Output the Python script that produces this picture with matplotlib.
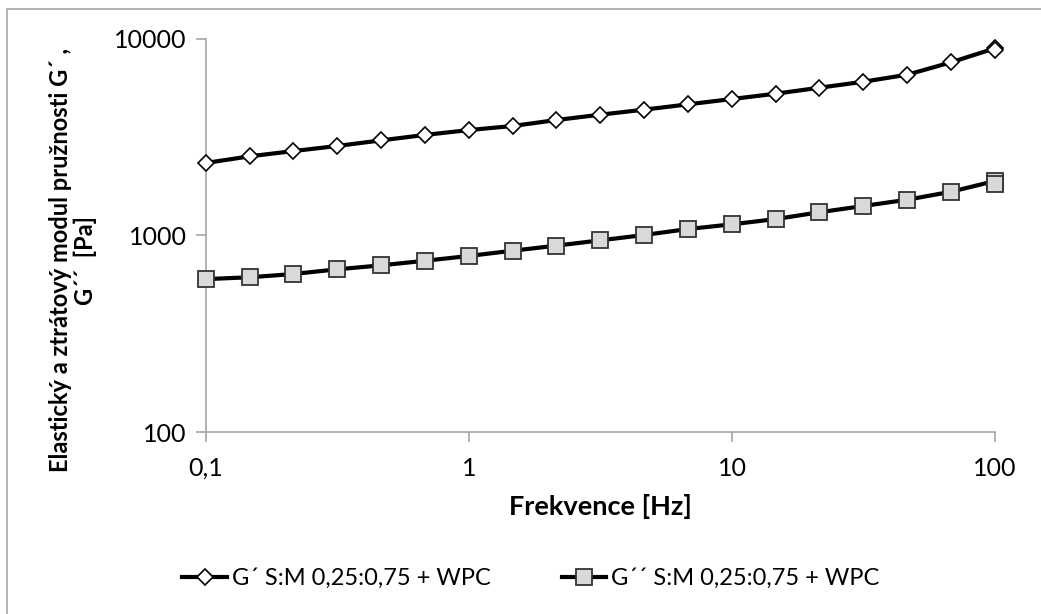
import matplotlib
matplotlib.use("Agg")
import matplotlib.pyplot as plt
from matplotlib.patches import Rectangle

plt.rcParams['font.family'] = ['Lato', 'DejaVu Sans']

# frekvence [Hz] (posledni bod je zmeren dvakrat)
freq = [0.1, 0.147, 0.215, 0.316, 0.464, 0.681, 1, 1.47, 2.15, 3.16,
        4.64, 6.81, 10, 14.7, 21.5, 31.6, 46.4, 68.1, 100, 100]

# elasticky modul G´ [Pa]
g1 = [2340, 2530, 2690, 2855, 3050, 3250, 3440, 3610, 3870, 4120,
      4370, 4650, 4950, 5270, 5650, 6060, 6580, 7610, 8970, 8800]

# ztratovy modul G´´ [Pa]
g2 = [600, 613, 637, 673, 705, 744, 787, 837, 888, 945,
      1006, 1079, 1140, 1213, 1313, 1413, 1521, 1670, 1894, 1830]

label_g1 = "G´ S:M 0,25:0,75 + WPC"
label_g2 = "G´´ S:M 0,25:0,75 + WPC"

x_ticks = [0.1, 1, 10, 100]
x_labels = ["0,1", "1", "10", "100"]
y_ticks = [100, 1000, 10000]
y_labels = ["100", "1000", "10000"]

fig = plt.figure(figsize=(10.41, 6.14), dpi=100)
ax = fig.add_axes([0.1979, 0.2964, 0.7579, 0.6401])

# ramecek kolem celeho grafu
fig.patches.append(Rectangle((7 / 1041, -0.1), 1.2, 1 - 9 / 614 + 0.1,
                             transform=fig.transFigure, fill=False,
                             edgecolor="#a6a6a6", linewidth=1.2))

ax.plot(freq, g1, color="black", linewidth=3, marker="D", markersize=8.5,
        markerfacecolor="white", markeredgecolor="black", markeredgewidth=1.2,
        label=label_g1, clip_on=False, zorder=3)
ax.plot(freq, g2, color="black", linewidth=3, marker="s", markersize=11.5,
        markerfacecolor="#d9d9d9", markeredgecolor="#333333", markeredgewidth=1.3,
        label=label_g2, clip_on=False, zorder=3)

ax.set_xscale("log")
ax.set_yscale("log")
ax.set_xlim(0.1, 100)
ax.set_ylim(100, 10000)
ax.set_xticks(x_ticks)
ax.set_xticklabels(x_labels)
ax.set_yticks(y_ticks)
ax.set_yticklabels(y_labels)
ax.minorticks_off()

for s in ["top", "right"]:
    ax.spines[s].set_visible(False)
for s in ["left", "bottom"]:
    ax.spines[s].set_color("#a6a6a6")
    ax.spines[s].set_linewidth(1.2)
ax.tick_params(axis="both", which="major", direction="out", length=7,
               width=1.2, color="#a6a6a6", labelsize=18, pad=7)
ax.tick_params(axis="x", pad=11)

ax.set_xlabel("Frekvence [Hz]", fontsize=19.5, fontweight="bold", labelpad=10)
fig.text(0.070, 0.5765, "Elastický a ztrátový modul pružnosti G´ ,\nG´´  [Pa]",
         rotation=90, ha="center", va="center", multialignment="center",
         fontsize=17, fontweight="bold", linespacing=1.05)

fig.legend(loc="center", bbox_to_anchor=(0.51, 0.058), ncol=2, frameon=False,
           fontsize=17, handlelength=1.9, handletextpad=0.2, columnspacing=3.0)

fig.savefig("out.png", dpi=100)
